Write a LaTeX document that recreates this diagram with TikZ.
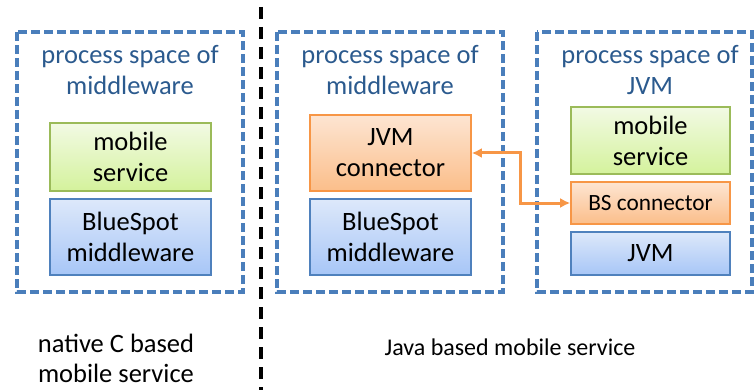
\documentclass[tikz,border=0pt]{standalone}
\usepackage{fontspec}
\setmainfont{Carlito}
\usetikzlibrary{arrows.meta}
\definecolor{spaceblue}{HTML}{4A7EBB}
\definecolor{titleblue}{HTML}{2B5A8E}
\definecolor{greenedge}{HTML}{9BBB59}
\definecolor{greentop}{HTML}{F2FAE4}
\definecolor{greenbot}{HTML}{D4F29C}
\definecolor{blueedge}{HTML}{4F81BD}
\definecolor{bluetop}{HTML}{DDE8FA}
\definecolor{bluebot}{HTML}{A7C6F7}
\definecolor{orangeedge}{HTML}{F79646}
\definecolor{orangetop}{HTML}{FDE5D2}
\definecolor{orangebot}{HTML}{FBBE8A}
\tikzset{
  txt/.style={font=\fontsize{26.5}{31}\selectfont, align=center, inner sep=0pt},
  space/.style={draw=spaceblue, line width=3.3pt, dash pattern=on 9pt off 4pt},
  title/.style={txt, text=titleblue},
  layer/.style={txt, draw, line width=1.6pt, minimum width=161pt, text=black},
  greenbox/.style={layer, draw=greenedge, top color=greentop, bottom color=greenbot},
  bluebox/.style={layer, draw=blueedge, top color=bluetop, bottom color=bluebot},
  orangebox/.style={layer, draw=orangeedge, top color=orangetop, bottom color=orangebot},
  conn/.style={draw=orangeedge, line width=3pt, {Latex[length=10pt,width=10pt]}-{Latex[length=10pt,width=10pt]}},
  caption/.style={txt, font=\fontsize{26.5}{30}\selectfont, anchor=base},
}
\begin{document}
\begin{tikzpicture}[x=1pt, y=-1pt]
\useasboundingbox (0,0) rectangle (754,390);

% separator between the two deployment variants
\draw[black, line width=4pt, dash pattern=on 12pt off 8pt] (261,7) -- (261,390);

% process spaces
\draw[space] (17,32) rectangle (243,292);
\draw[space] (277,32) rectangle (503,292);
\draw[space] (537,32) rectangle (752,292);

% native C variant
\node[title] (t1) at (130,70) {process space of\\middleware};
\node[greenbox, minimum height=68pt] (ms1) at (130.5,157) {mobile\\service};
\node[bluebox, minimum height=76pt] (bs1) at (130.5,237) {BlueSpot\\middleware};

% Java variant, middleware side
\node[title] (t2) at (390,70) {process space of\\middleware};
\node[orangebox, minimum height=76pt] (jvmc) at (390.5,153) {JVM\\connector};
\node[bluebox, minimum height=76pt] (bs2) at (390.5,237) {BlueSpot\\middleware};

% Java variant, JVM side
\node[title] (t3) at (650,70) {process space of\\JVM};
\node[greenbox, minimum width=159pt, minimum height=67pt] (ms2) at (650.5,140.5) {mobile\\service};
\node[orangebox, minimum width=159pt, minimum height=42pt, font=\fontsize{23.3}{28}\selectfont] (bsc) at (650.5,203) {BS connector};
\node[bluebox, minimum width=159pt, minimum height=43pt] (jvm) at (650.5,253.5) {JVM};

% link between the two connectors
\coordinate (bend) at (520,0);
\draw[conn] (jvmc.east) -- (jvmc.east -| bend) -- (bsc.west -| bend) -- (bsc.west);

% captions (base anchor sits on the last line)
\node[caption] (cap1) at (116,382) {native C based\\mobile service};
\node[caption, font=\fontsize{24}{30}\selectfont] (cap2) at (510,355) {Java based mobile service};
\end{tikzpicture}
\end{document}
